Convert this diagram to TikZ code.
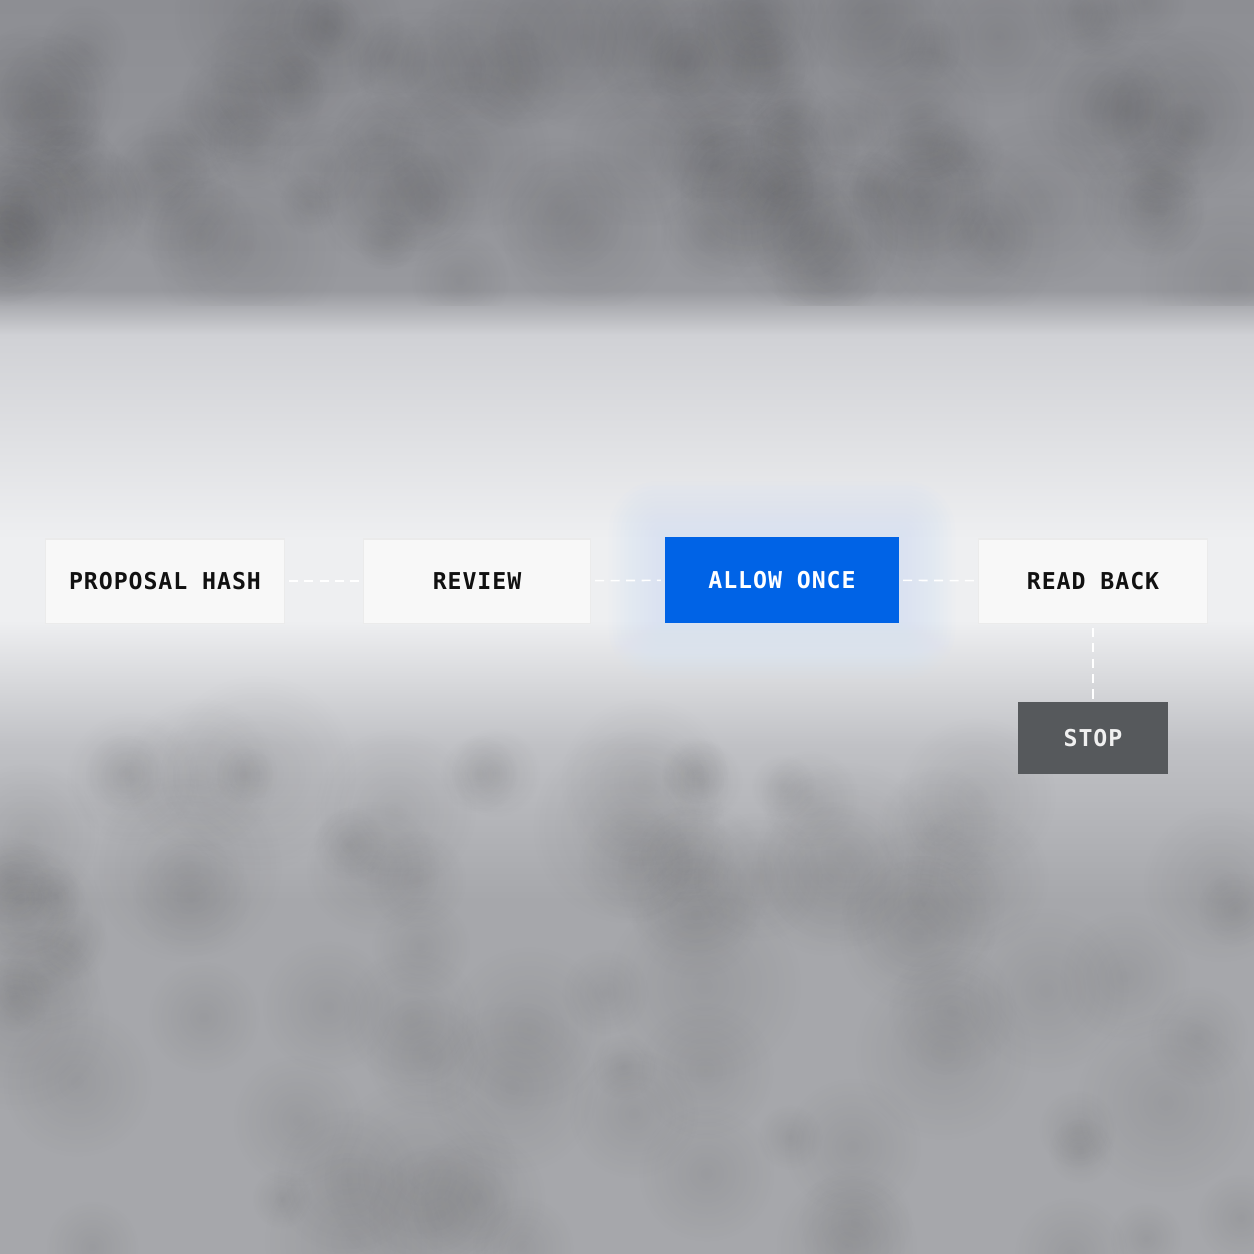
\documentclass[tikz,border=0pt]{standalone}
\usepackage{fontspec}
\newfontfamily\flowfont[LetterSpace=4]{DejaVu Sans Mono}
\usetikzlibrary{calc}
\usetikzlibrary{fadings}
\tikzfading[name=softblob, inner color=transparent!0, outer color=transparent!100]
\definecolor{bgdark}{RGB}{141,142,147}
\definecolor{bgedge}{RGB}{152,153,158}
\definecolor{bgband}{RGB}{208,209,213}
\definecolor{bglight}{RGB}{238,239,241}
\definecolor{bgfall}{RGB}{192,193,197}
\definecolor{bglow}{RGB}{166,167,171}
\definecolor{boxwhite}{RGB}{248,248,248}
\definecolor{allowblue}{RGB}{0,99,230}
\definecolor{glowblue}{RGB}{212,226,250}
\definecolor{stopgray}{RGB}{86,89,92}
\definecolor{inkblack}{RGB}{17,17,17}
\tikzset{
  stepbox/.style={rectangle, fill=boxwhite, draw=black!8, line width=0.3pt,
    minimum height=0.84cm, inner sep=0pt, text=inkblack,
    font=\flowfont\bfseries\fontsize{6.6pt}{8pt}\selectfont},
  allowbox/.style={stepbox, fill=allowblue, draw=allowblue, text=white},
  stopbox/.style={stepbox, fill=stopgray, draw=stopgray, text=white!94!black,
    minimum height=0.71cm},
  link/.style={draw=white, line width=0.45pt, dash pattern=on 2.6pt off 1.8pt,
    shorten <=4pt*0.284, shorten >=4pt*0.284},
}
\begin{document}
\begin{tikzpicture}[x=0.01cm, y=-0.01cm]
  \useasboundingbox (0,0) rectangle (1254,1254);
  % fond nuageux
  \shade [top color=bgdark, bottom color=bgedge] (0,0) rectangle (1254,290);
  \shade [top color=bgedge, bottom color=bgband] (0,290) rectangle (1254,335);
  \shade [top color=bgband, bottom color=bglight] (0,335) rectangle (1254,540);
  \fill [bglight] (0,540) rectangle (1254,620);
  \shade [top color=bglight, bottom color=bgfall] (0,620) rectangle (1254,745);
  \shade [top color=bgfall, bottom color=bglow] (0,745) rectangle (1254,900);
  \fill [bglow] (0,900) rectangle (1254,1254);
  \pgfmathsetseed{11}
  \begin{scope}
    \clip (0,0) rectangle (1254,305);
    \foreach \i in {1,...,90} {
      \pgfmathsetmacro\bx{rnd*1254}
      \pgfmathsetmacro\by{rnd*290}
      \pgfmathsetmacro\br{0.3+rnd*0.7}
      \fill [black, opacity=0.07, path fading=softblob] (\bx,\by) circle [radius=\br cm];
    }
  \end{scope}
  \foreach \i in {1,...,80} {
    \pgfmathsetmacro\bx{rnd*1254}
    \pgfmathsetmacro\cy{770+rnd*484}
    \pgfmathsetmacro\br{0.3+rnd*0.7}
    \fill [black, opacity=0.07, path fading=softblob] (\bx,\cy) circle [radius=\br cm];
  }
  % etapes
  \node [stepbox, minimum width=2.38cm] (hash) at (165,581) {PROPOSAL HASH};
  \node [stepbox, minimum width=2.27cm] (review) at (477,581) {REVIEW};
  \node [allowbox, minimum width=2.33cm] (allow) at (782,580) {ALLOW ONCE};
  \node [stepbox, minimum width=2.29cm] (readback) at (1093,581) {READ BACK};
  \node [stopbox, minimum width=1.49cm] (stop) at (1093,738) {STOP};
  % halo bleu
  \foreach \g in {4,8,...,56} {
    \pgfmathsetmacro\rc{\g*0.25}
    \fill [glowblue, opacity=0.07, rounded corners=\rc pt]
      ($(allow.south west)+(-\g,\g)$) rectangle ($(allow.north east)+(\g,-\g)$);
  }
  \node [allowbox, minimum width=2.33cm] at (allow) {ALLOW ONCE};
  % liens
  \draw [link] (hash) -- (review);
  \draw [link] (review) -- (allow);
  \draw [link] (allow) -- (readback);
  \draw [link, shorten >=0pt] (readback) -- (stop);
\end{tikzpicture}
\end{document}
